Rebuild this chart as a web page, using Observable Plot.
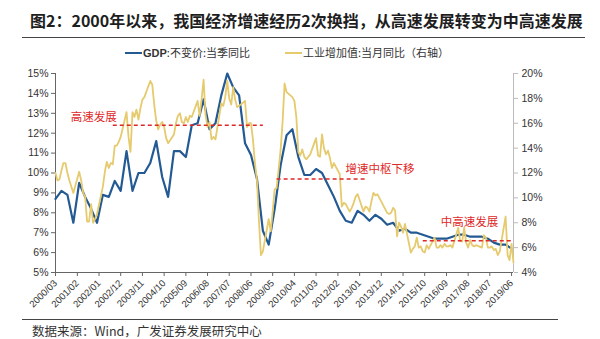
<!DOCTYPE html>
<html><head><meta charset="utf-8">
<script src="https://cdn.jsdelivr.net/npm/d3@7"></script>
<script src="https://cdn.jsdelivr.net/npm/@observablehq/plot@0.6"></script>
<style>
body{margin:0;width:600px;height:339px;background:#fff;position:relative;overflow:hidden;font-family:"Noto Sans CJK SC","Noto Sans",sans-serif;}
#title{position:absolute;left:30px;top:9px;font-size:16px;font-weight:bold;color:#1e1e1e;line-height:22px;white-space:nowrap;}
#rule1{position:absolute;left:22px;top:37px;width:563px;height:0;border-top:1px solid #444;}
#legend{position:absolute;top:45px;left:0;width:600px;height:15px;font-size:11px;color:#333;line-height:15px;}
.item{position:absolute;top:0;white-space:nowrap;}
.sw{display:inline-block;width:17px;height:2px;vertical-align:middle;margin-right:1px;position:relative;top:-1px;}
#chart{position:absolute;left:0;top:62px;}
#rule2{position:absolute;left:22px;top:319px;width:536px;height:0;border-top:1px solid #444;}
#source{position:absolute;left:32px;top:323px;font-size:12.5px;color:#333;line-height:15px;white-space:nowrap;}
</style></head>
<body>
<div id="title">图2：2000年以来，我国经济增速经历2次换挡，从高速发展转变为中高速发展</div>
<div id="rule1"></div>
<div id="legend">
  <span class="item" style="left:125px"><span class="sw" style="background:#245a93"></span><b style="font-family:'Liberation Sans',Arial,sans-serif">GDP</b>:不变价:当季同比</span>
  <span class="item" style="left:285px"><span class="sw" style="background:#e6ca6e"></span>工业增加值:当月同比（右轴）</span>
</div>
<div id="chart"></div>
<div id="rule2"></div>
<div id="source">数据来源：Wind，广发证券发展研究中心</div>
<script>
// GDP: 不变价: 当季同比 (%), 2000Q1 .. 2019Q2
const gdpStartYear = 2000;
const gdpValues = [
  8.7, 9.1, 8.9, 7.5,
  9.5, 8.8, 8.2, 7.5,
  8.9, 8.8, 9.6, 9.1,
  11.1, 9.1, 10.0, 10.0,
  10.5, 11.6, 9.8, 8.8,
  11.1, 11.1, 10.8, 12.4,
  12.5, 13.7, 12.2, 12.5,
  13.9, 15.0, 14.3, 13.9,
  11.5, 10.9, 9.7, 7.1,
  6.4, 8.2, 10.4, 11.9,
  12.2, 10.8, 9.9, 9.9,
  10.2, 10.0, 9.4, 8.8,
  8.1, 7.6, 7.5, 8.1,
  7.9, 7.6, 7.9, 7.7,
  7.4, 7.5, 7.1, 7.2,
  7.0, 7.0, 6.9, 6.8,
  6.7, 6.7, 6.7, 6.8,
  6.9, 6.9, 6.8, 6.8,
  6.8, 6.7, 6.5, 6.4,
  6.4, 6.2
];

// 工业增加值: 当月同比 (%), March..December of each year (Jan/Feb not reported)
const ivaYears = [2000,2001,2002,2003,2004,2005,2006,2007,2008,2009,2010,2011,2012,2013,2014,2015,2016,2017,2018,2019];
const ivaMarOnward = [
  [12.0, 11.4, 11.5, 12.2, 12.8, 12.8, 12.0, 11.4, 10.9, 10.4],
  [12.1, 11.4, 10.4, 10.1, 8.1, 8.1, 9.5, 8.0, 8.3, 8.7],
  [10.9, 12.1, 12.9, 12.4, 12.8, 12.7, 14.2, 14.2, 14.5, 14.9],
  [16.9, 14.9, 13.7, 16.9, 16.5, 17.1, 16.3, 17.2, 17.9, 18.1],
  [19.4, 19.1, 17.5, 16.2, 15.5, 15.9, 16.1, 15.7, 14.8, 14.4],
  [15.1, 16.0, 16.6, 16.8, 16.1, 16.0, 16.5, 16.1, 16.6, 16.5],
  [17.8, 16.6, 17.9, 19.5, 16.7, 15.7, 16.1, 14.7, 14.9, 14.7],
  [17.6, 17.4, 18.1, 19.4, 18.0, 17.5, 18.9, 17.9, 17.3, 17.4],
  [17.8, 15.7, 16.0, 16.0, 14.7, 12.8, 11.4, 8.2, 5.4, 5.7],
  [8.3, 7.3, 8.9, 10.7, 10.8, 12.3, 13.9, 16.1, 19.2, 18.5],
  [18.1, 17.8, 16.5, 13.7, 13.4, 13.9, 13.3, 13.1, 13.3, 13.5],
  [14.8, 13.4, 13.3, 15.1, 14.0, 13.5, 13.8, 13.2, 12.4, 12.8],
  [11.9, 9.3, 9.6, 9.5, 9.2, 8.9, 9.2, 9.6, 10.1, 10.3],
  [8.9, 9.3, 9.2, 8.9, 9.7, 10.4, 10.2, 10.3, 10.0, 9.7],
  [8.8, 8.7, 8.8, 9.2, 9.0, 6.9, 8.0, 7.7, 7.2, 7.9],
  [5.6, 5.9, 6.1, 6.8, 6.0, 6.1, 5.7, 5.6, 6.2, 5.9],
  [6.8, 6.0, 6.0, 6.2, 6.0, 6.3, 6.1, 6.1, 6.2, 6.0],
  [7.6, 6.5, 6.5, 7.6, 6.4, 6.0, 6.6, 6.2, 6.1, 6.2],
  [6.0, 7.0, 6.8, 6.0, 6.0, 6.1, 5.8, 5.9, 5.4, 5.7],
  [8.5, 5.4, 5.0, 6.3, 4.8]
];

const xTickLabels = ["2000/03","2001/02","2002/01","2002/12","2003/11","2004/10","2005/09","2006/08","2007/07","2008/06","2009/05","2010/04","2011/03","2012/02","2013/01","2013/12","2014/11","2015/10","2016/09","2017/08","2018/07","2019/06"];
const leftTicks = [5,6,7,8,9,10,11,12,13,14,15];
const rightTicks = [4,6,8,10,12,14,16,18,20];

// 阶段参考线（左轴数值）
const phaseLabels = ["高速发展", "增速中枢下移", "中高速发展"];
const phaseStart  = ["2002/08", "2009/07", "2015/09"];
const phaseEnd    = ["2008/12", "2013/05", "2019/06"];
const phaseLevel  = [12.4, 9.7, 6.6];

const parseYM = d3.utcParse("%Y/%m");
const fmtYM = d3.utcFormat("%Y/%m");

const gdp = gdpValues.map((v, i) => ({
  date: new Date(Date.UTC(gdpStartYear + Math.floor(i / 4), 3 * (i % 4) + 2, 1)),
  value: v
}));
const iva = [];
ivaYears.forEach((y, k) => ivaMarOnward[k].forEach((v, j) => iva.push({date: new Date(Date.UTC(y, 2 + j, 1)), value: v})));

// right axis (4%..20%) mapped onto left axis (5%..15%)
const L0 = 5, L1 = 15, R0 = 4, R1 = 20;
const toLeft = r => L0 + (r - R0) * (L1 - L0) / (R1 - R0);
const fromLeft = l => R0 + (l - L0) * (R1 - R0) / (L1 - L0);

const phases = phaseLabels.map((t, i) => ({label: t, x1: parseYM(phaseStart[i]), x2: parseYM(phaseEnd[i]), y: phaseLevel[i]}));

const xMin = parseYM("2000/03"), xMax = parseYM("2019/07");
const xTicks = xTickLabels.map(parseYM);
const red = "#e02727";

const chart = Plot.plot({
  width: 600,
  height: 250,
  marginLeft: 55,
  marginRight: 87,
  marginTop: 11,
  marginBottom: 40,
  style: {fontFamily: "'Liberation Sans', Arial, sans-serif", fontSize: "10px", color: "#333", background: "transparent", overflow: "visible"},
  x: {type: "utc", domain: [xMin, xMax]},
  y: {domain: [L0, L1]},
  marks: [
    Plot.axisX(xTicks, {tickFormat: fmtYM, tickRotate: -45, tickSize: 4, tickPadding: 5, fontSize: 9.5, stroke: "#666", label: null}),
    Plot.axisY(leftTicks, {tickFormat: d => d + "%", tickSize: 4, tickPadding: 3, fontSize: 10.5, stroke: "#666", label: null}),
    Plot.axisY(rightTicks.map(toLeft), {anchor: "right", tickFormat: d => Math.round(fromLeft(d)) + "%", tickSize: 4, tickPadding: 4, fontSize: 10.5, stroke: "#bbb", label: null}),
    Plot.ruleX([xMin], {stroke: "#666"}),
    Plot.ruleX([xMax], {stroke: "#bbb"}),
    Plot.ruleY([L0], {stroke: "#666"}),
    Plot.line(gdp, {x: "date", y: "value", stroke: "#245a93", strokeWidth: 2.2}),
    Plot.line(iva, {x: "date", y: d => toLeft(d.value), stroke: "#e6ca6e", strokeWidth: 1.8}),
    Plot.link(phases, {x1: "x1", x2: "x2", y1: "y", y2: "y", stroke: red, strokeWidth: 1.5, strokeDasharray: "4,3"}),
    Plot.text(phases.slice(0, 1), {x: "x1", y: "y", text: "label", textAnchor: "end", dx: 4, dy: -8, fill: red, fontSize: 11.5, fontFamily: "'Noto Sans CJK SC', sans-serif"}),
    Plot.text(phases.slice(1, 2), {x: "x2", y: "y", text: "label", textAnchor: "start", dx: -22, dy: -10, fill: red, fontSize: 11.5, fontFamily: "'Noto Sans CJK SC', sans-serif"}),
    Plot.text(phases.slice(2, 3), {x: "x1", y: "y", text: "label", textAnchor: "start", dx: 18, dy: -18, fill: red, fontSize: 11.5, fontFamily: "'Noto Sans CJK SC', sans-serif"})
  ]
});
document.getElementById("chart").appendChild(chart);
</script>
</body></html>
